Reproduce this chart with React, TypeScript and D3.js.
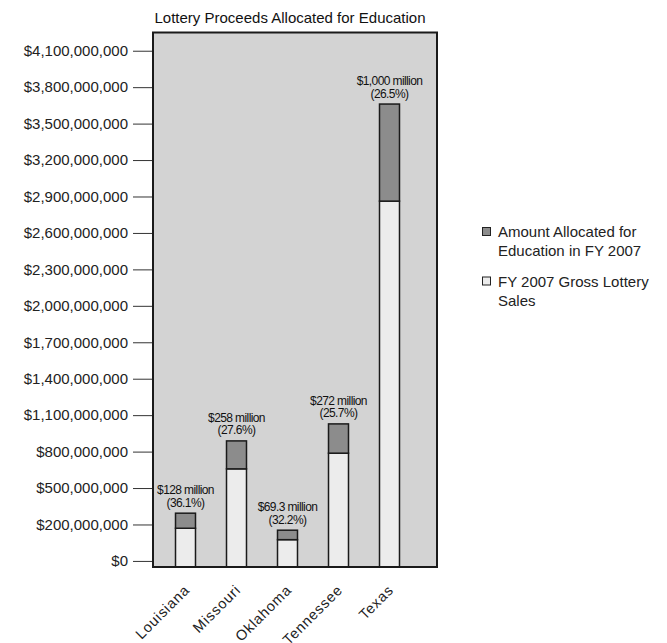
import * as d3 from "d3"
import { useEffect, useRef } from "react"

// values in millions
const states = ["Louisiana", "Missouri", "Oklahoma", "Tennessee", "Texas"]
const grossSales = [169, 658, 75, 787, 2862]
const allocated = [124, 230, 78, 241, 799]
const amountLabels = ["$128 million", "$258 million", "$69.3 million", "$272 million", "$1,000 million"]
const shareLabels = ["(36.1%)", "(27.6%)", "(32.2%)", "(25.7%)", "(26.5%)"]
const tickValues = [-100, 200, 500, 800, 1100, 1400, 1700, 2000, 2300, 2600, 2900, 3200, 3500, 3800, 4100]
const tickLabels = [
  "$0",
  "$200,000,000",
  "$500,000,000",
  "$800,000,000",
  "$1,100,000,000",
  "$1,400,000,000",
  "$1,700,000,000",
  "$2,000,000,000",
  "$2,300,000,000",
  "$2,600,000,000",
  "$2,900,000,000",
  "$3,200,000,000",
  "$3,500,000,000",
  "$3,800,000,000",
  "$4,100,000,000",
]
const legendItems = [
  { lines: ["Amount Allocated for", "Education in FY 2007"], color: "#8c8c8c" },
  { lines: ["FY 2007 Gross Lottery", "Sales"], color: "#ececec" },
]

const W = 667
const H = 643
const plot = { left: 153, right: 437, top: 32.5, bottom: 567 }
const FONT = "'Liberation Sans', Arial, sans-serif"

export default function App() {
  const svgRef = useRef<SVGSVGElement | null>(null)

  useEffect(() => {
    if (!svgRef.current) return
    const svg = d3.select(svgRef.current)
    svg.selectAll("*").remove()

    const x = d3
      .scaleBand()
      .domain(states)
      .range([plot.left + 7, plot.right - 22])
      .paddingInner(0.608)
      .paddingOuter(0.304)

    const y = d3.scaleLinear().domain([-150, 4250]).range([plot.bottom, plot.top])

    // title
    svg
      .append("text")
      .attr("x", 290)
      .attr("y", 23)
      .attr("text-anchor", "middle")
      .style("font-family", FONT)
      .style("font-size", "15px")
      .style("fill", "#111")
      .text("Lottery Proceeds Allocated for Education")

    // plot background
    svg
      .append("rect")
      .attr("x", plot.left)
      .attr("y", plot.top)
      .attr("width", plot.right - plot.left)
      .attr("height", plot.bottom - plot.top)
      .attr("fill", "#d3d3d3")

    // y axis
    const yAxis = svg
      .append("g")
      .attr("transform", `translate(${plot.left},0)`)
      .call(
        d3
          .axisLeft(y)
          .tickValues(tickValues)
          .tickSize(20)
          .tickPadding(5)
          .tickFormat((_d, i) => tickLabels[i]),
      )
    yAxis.select(".domain").remove()
    yAxis.selectAll("line").attr("stroke", "#333")
    yAxis
      .selectAll("text")
      .style("font-family", FONT)
      .style("font-size", "15px")
      .style("fill", "#222")

    const base = y.domain()[0]

    // bars
    const g = svg.append("g")
    states.forEach((s, i) => {
      const bx = x(s)!
      const bw = x.bandwidth()
      const whiteTop = grossSales[i]
      const grayTop = grossSales[i] + allocated[i]
      g.append("rect")
        .attr("x", bx)
        .attr("y", y(whiteTop))
        .attr("width", bw)
        .attr("height", y(base) - y(whiteTop))
        .attr("fill", "#ececec")
        .attr("stroke", "#1a1a1a")
        .attr("stroke-width", 1.5)
      g.append("rect")
        .attr("x", bx)
        .attr("y", y(grayTop))
        .attr("width", bw)
        .attr("height", y(whiteTop) - y(grayTop))
        .attr("fill", "#8c8c8c")
        .attr("stroke", "#1a1a1a")
        .attr("stroke-width", 1.5)

      const cx = bx + bw / 2
      const ann = g
        .append("text")
        .attr("text-anchor", "middle")
        .style("font-family", FONT)
        .style("font-size", "12px")
        .style("letter-spacing", "-0.6px")
        .style("fill", "#111")
      ann
        .append("tspan")
        .attr("x", cx)
        .attr("y", y(grayTop) - 19)
        .text(amountLabels[i])
      ann
        .append("tspan")
        .attr("x", cx)
        .attr("y", y(grayTop) - 6.5)
        .text(shareLabels[i])

      // x labels
      svg
        .append("text")
        .attr("transform", `translate(${cx + 5},${plot.bottom + 24}) rotate(-45)`)
        .attr("text-anchor", "end")
        .style("font-family", FONT)
        .style("font-size", "14.5px")
        .style("letter-spacing", "0.8px")
        .style("fill", "#222")
        .text(s)
    })

    // plot border
    svg
      .append("rect")
      .attr("x", plot.left)
      .attr("y", plot.top)
      .attr("width", plot.right - plot.left)
      .attr("height", plot.bottom - plot.top)
      .attr("fill", "none")
      .attr("stroke", "#1a1a1a")
      .attr("stroke-width", 2)

    // legend
    const legend = svg.append("g").attr("transform", "translate(482,0)")
    legendItems.forEach((item, i) => {
      const top = 232 + i * 49.5
      legend
        .append("rect")
        .attr("x", 0.5)
        .attr("y", top - 4.5)
        .attr("width", 8)
        .attr("height", 8)
        .attr("fill", item.color)
        .attr("stroke", "#222")
        .attr("stroke-width", 1)
      item.lines.forEach((line, j) => {
        legend
          .append("text")
          .attr("x", 16)
          .attr("y", top + 5 + j * 19)
          .style("font-family", FONT)
          .style("font-size", "15px")
          .style("fill", "#222")
          .text(line)
      })
    })
  }, [])

  return (
    <svg
      ref={svgRef}
      width={W}
      height={H}
      style={{ position: "absolute", left: 0, top: 0, background: "#fff" }}
      xmlns="http://www.w3.org/2000/svg"
    />
  )
}
